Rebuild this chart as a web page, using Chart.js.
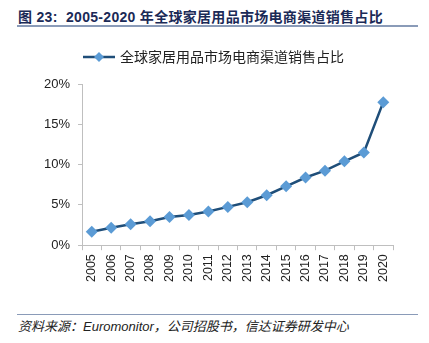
<!DOCTYPE html>
<html><head><meta charset="utf-8">
<script src="https://cdn.jsdelivr.net/npm/chart.js@4/dist/chart.umd.min.js"></script>
<style>
html,body{margin:0;padding:0;background:#fff;width:429px;height:343px;overflow:hidden;}
#title{position:absolute;left:18px;top:6px;font:bold 14px "Liberation Sans","Noto Sans CJK SC",sans-serif;letter-spacing:0.3px;color:#1b2a57;white-space:nowrap;}
#tline{position:absolute;left:17px;top:25px;width:401px;height:2px;background:#8a9bb8;}
#fline{position:absolute;left:17px;top:314px;width:401px;height:1px;background:#8a9bb8;}
#foot{position:absolute;left:18px;top:316px;font:italic 13px "Liberation Sans","Noto Sans CJK SC",sans-serif;color:#222;white-space:nowrap;}
#wrap{position:absolute;left:0;top:32px;width:429px;height:254px;}
</style></head><body>
<div id="title">图 23:&nbsp; 2005-2020 年全球家居用品市场电商渠道销售占比</div>
<div id="tline"></div>
<div id="wrap"><canvas id="c"></canvas></div>
<div id="fline"></div>
<div id="foot">资料来源：Euromonitor，公司招股书，信达证券研发中心</div>
<script>
const categories = ["2005","2006","2007","2008","2009","2010","2011","2012","2013","2014","2015","2016","2017","2018","2019","2020"];
const seriesName = "全球家居用品市场电商渠道销售占比";
const shareValues = [1.66,2.16,2.6,2.96,3.5,3.75,4.17,4.75,5.33,6.2,7.3,8.4,9.25,10.4,11.5,17.75];
const yTicks = [0,5,10,15,20];

const lineColor = "#1f4e79", markColor = "#5b9bd5";
const icon = document.createElement('canvas');
icon.width = 32; icon.height = 12;
(function(){const g=icon.getContext('2d');g.strokeStyle=lineColor;g.lineWidth=2.5;g.beginPath();g.moveTo(0,6);g.lineTo(32,6);g.stroke();
g.fillStyle=markColor;g.beginPath();g.moveTo(16,1);g.lineTo(21,6);g.lineTo(16,11);g.lineTo(11,6);g.closePath();g.fill();})();

const legendMargin = { id: 'legendMargin', beforeInit(chart) {
  const orig = chart.legend.fit;
  chart.legend.fit = function() { orig.bind(chart.legend)(); this.height += 10; };
}};

new Chart(document.getElementById('c'), {
  type: 'line',
  data: { labels: categories, datasets: [{
    label: seriesName, data: shareValues,
    borderColor: lineColor, borderWidth: 2.5, tension: 0,
    pointStyle: 'rectRot', pointRadius: 6, pointBackgroundColor: markColor, pointBorderColor: markColor, pointBorderWidth: 0
  }]},
  plugins: [legendMargin],
  options: {
    responsive: true, maintainAspectRatio: false, animation: false,
    layout: { padding: { left: 36, right: 36, top: 8, bottom: 0 } },
    plugins: {
      legend: { position: 'top', labels: {
        usePointStyle: true, pointStyle: icon, pointStyleWidth: 28, boxHeight: 12, padding: 10,
        color: '#222', font: { family: '"Noto Sans CJK SC", sans-serif', size: 14 },
        generateLabels: (ch) => [{ text: seriesName, pointStyle: icon, fontColor: '#222', lineWidth: 0, strokeStyle: 'transparent', fillStyle: 'transparent' }]
      }},
      tooltip: { enabled: false }
    },
    scales: {
      x: {
        offset: true,
        grid: { display: true, drawOnChartArea: false, offset: true, drawTicks: true, tickLength: 5, color: '#bfbfbf' },
        border: { color: '#bfbfbf', width: 1 },
        ticks: { minRotation: 90, maxRotation: 90, autoSkip: false, color: '#222', padding: 4, font: { family: '"Liberation Sans", sans-serif', size: 12.5 } }
      },
      y: {
        min: 0, max: 20,
        afterBuildTicks: (s) => { s.ticks = yTicks.map(v => ({ value: v })); },
        grid: { drawOnChartArea: false, drawTicks: true, tickLength: 4, color: '#bfbfbf' },
        border: { color: '#bfbfbf', width: 1 },
        ticks: { color: '#222', padding: 8, callback: v => v + '%', font: { family: '"Liberation Sans", sans-serif', size: 13 } }
      }
    }
  }
});
</script>
</body></html>
